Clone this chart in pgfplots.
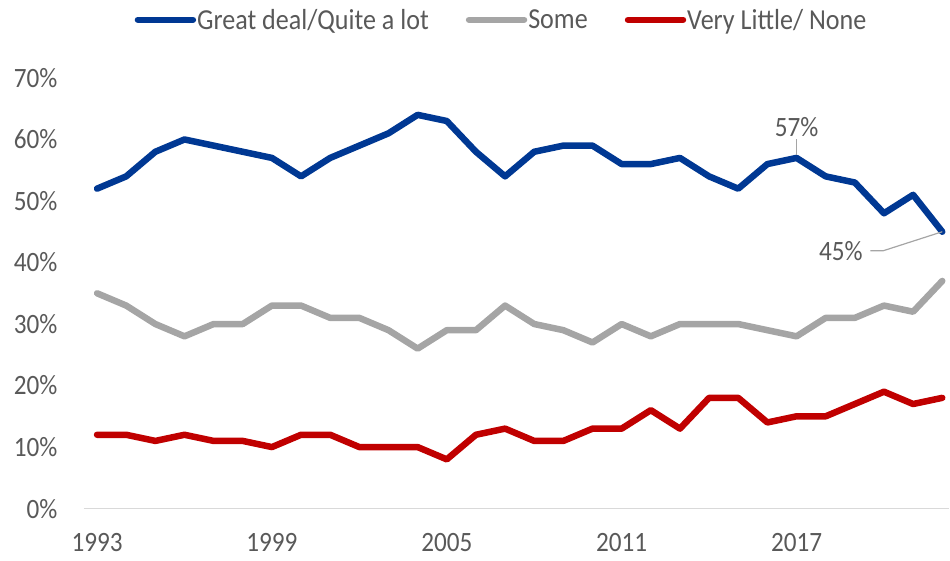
\documentclass[border=0pt]{standalone}
\usepackage{pgfplots}
\pgfplotsset{compat=1.18}
\usepackage{fontspec}
\setmainfont{Carlito}[FakeStretch=0.9]
\definecolor{cblue}{HTML}{003893}
\definecolor{cgray}{HTML}{A5A5A5}
\definecolor{cred}{HTML}{C00000}
\definecolor{ctext}{HTML}{595959}
\definecolor{caxis}{HTML}{D9D9D9}
\pgfplotstableread{
idx year blue gray red
0 1993 52 35 12
1 1994 54 33 12
2 1995 58 30 11
3 1996 60 28 12
4 1997 59 30 11
5 1998 58 30 11
6 1999 57 33 10
7 2000 54 33 12
8 2001 57 31 12
9 2002 59 31 10
10 2003 61 29 10
11 2004 64 26 10
12 2005 63 29 8
13 2006 58 29 12
14 2007 54 33 13
15 2008 58 30 11
16 2009 59 29 11
17 2010 59 27 13
18 2011 56 30 13
19 2012 56 28 16
20 2013 57 30 13
21 2014 54 30 18
22 2015 52 30 18
23 2016 56 29 14
24 2017 57 28 15
25 2018 54 31 15
26 2019 53 31 17
27 2020 48 33 19
28 2021 51 32 17
29 2022 45 37 18
}\datatable
\begin{document}
\begin{tikzpicture}
\begin{axis}[
  scale only axis, width=866bp, height=431bp,
  xmin=-0.45, xmax=29.24, ymin=0, ymax=70,
  axis x line=bottom, axis y line=left,
  x axis line style={-, draw=caxis, line width=1.5bp},
  y axis line style={draw=none},
  major tick length=0pt,
  xtick={0,6,12,18,24},
  xticklabels={1993,1999,2005,2011,2017},
  ytick={0,10,...,70},
  xticklabel style={yshift=-21bp},
  yticklabel={\pgfmathprintnumber{\tick}\%},
  yticklabel style={xshift=-23bp},
  ticklabel style={font=\fontsize{28bp}{32bp}\selectfont, text=ctext},
  /pgf/number format/assume math mode=true,
  every axis plot/.append style={line width=6.5bp, line join=round, line cap=round},
  legend style={at={(0.482,1.135)}, anchor=center, draw=none, fill=none,
    legend columns=3, font=\fontsize{29bp}{32bp}\selectfont, text=ctext,
    /tikz/every even column/.append style={column sep=36bp},
    inner sep=0pt, nodes={inner sep=1bp}},
  legend image code/.code={\draw[#1, line cap=round] (0bp,0bp) -- (55bp,0bp);},
  clip=false,
]
\addplot[cblue] table[x=idx, y=blue] {\datatable};
\addlegendentry{Great deal/Quite a lot}
\addplot[cgray] table[x=idx, y=gray] {\datatable};
\addlegendentry{Some}
\addplot[cred] table[x=idx, y=red] {\datatable};
\addlegendentry{Very Little/ None}
\draw[cgray, line width=1.2bp] (axis cs:24,57) ++(0pt,3bp) -- ++(0pt,16bp) node[above, text=ctext, inner sep=2bp, font=\fontsize{28bp}{32bp}\selectfont] {57\%};
\draw[cgray, line width=1.2bp] (axis cs:29,45) -- ++(-59bp,-19bp) -- ++(-13bp,0pt) node[left, text=ctext, inner sep=0bp, xshift=-7bp, font=\fontsize{28bp}{32bp}\selectfont] {45\%};
\coordinate (O) at (rel axis cs:0,0);
\end{axis}
\useasboundingbox (O) ++(-84bp,-52bp) rectangle ++(950bp,561bp);
\end{tikzpicture}
\end{document}
